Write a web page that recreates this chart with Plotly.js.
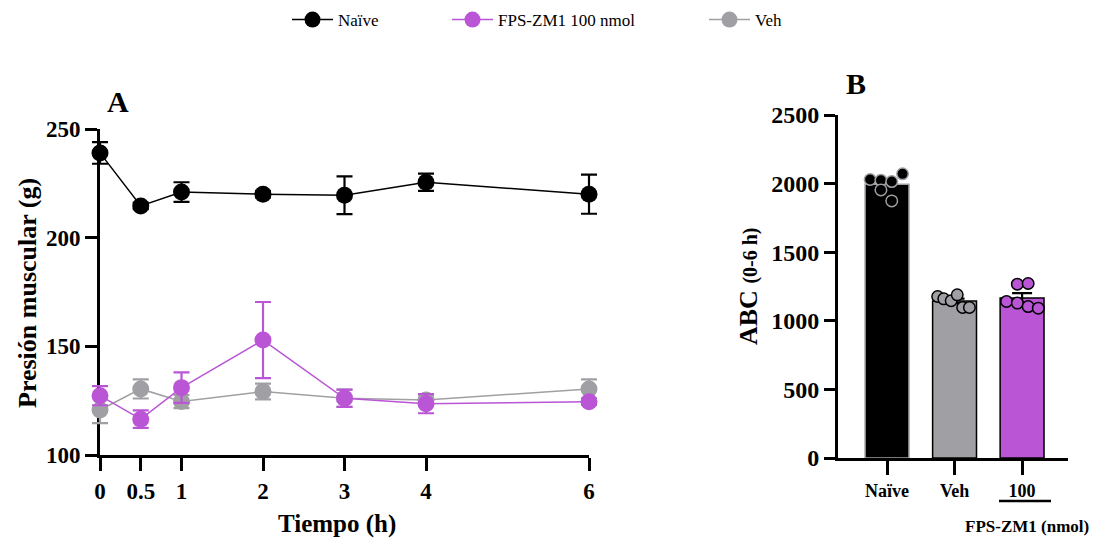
<!DOCTYPE html>
<html>
<head>
<meta charset="utf-8">
<script src="https://cdn.plot.ly/plotly-3.0.1.min.js"></script>
<style>html,body{margin:0;padding:0;background:#fff;}#chart{width:1100px;height:541px;}</style>
</head>
<body>
<div id="chart"></div>
<script>
// ---- Panel A data: Presión muscular (g) vs Tiempo (h) ----
const times = [0, 0.5, 1, 2, 3, 4, 6];
const timeTicks = ['0', '0.5', '1', '2', '3', '4', '6'];
const naive = [239, 214.6, 221, 220, 219.5, 225.5, 220];
const naiveErr = [5, 1.5, 4.5, 1.5, 8.7, 4, 9];
const fps = [127.3, 116.5, 131, 152.9, 126.1, 123.6, 124.5];
const fpsErr = [4.4, 4, 7, 17.5, 4, 4.4, 1.5];
const veh = [120.7, 130.4, 124.6, 129.2, 126.1, 125.3, 130.4];
const vehErr = [6, 4.4, 3, 3.6, 4, 2.5, 4.4];

// ---- Panel B data: ABC (0-6 h) ----
const groups = ['Naïve', 'Veh', '100'];
const abcMean = [1995, 1145, 1167];
const abcSem = [28, 16, 35];
const naiveAbc = [2030, 2025, 2015, 2071, 1954, 1874];
const vehAbc = [1177, 1160, 1146, 1189, 1097, 1097];
const fpsAbc = [1141, 1267, 1272, 1129, 1104, 1092];

// layout-only horizontal spread of individual dots (in category units)
const spreadNaive = [-0.25, -0.09, 0.07, 0.23, -0.09, 0.07];
const spreadVeh = [-0.25, -0.16, -0.05, 0.04, 0.12, 0.22];
const spreadFps = [-0.23, -0.07, 0.09, -0.07, 0.09, 0.24];

const BLACK = '#000000', PURPLE = '#BA55D6', GRAY = '#A0A0A4';
const SERIF = 'Liberation Serif, Times New Roman, serif';

const W = 1100, H = 541;
const px = v => v / W, py = v => 1 - v / H;

// Panel A geometry (pixels) — visible axes; traces go on an unclipped, wider twin subplot
const AX0 = 100, AX1 = 589, AY0 = 455, AY1 = 129, PAD = 30;
const xUnit = (AX1 - AX0) / 6, yUnit = (AY0 - AY1) / 150;

function lineTrace(name, y, err, color, legend) {
  return {
    type: 'scatter', mode: 'lines+markers', name: name, x: times, y: y,
    xaxis: 'x3', yaxis: 'y3', legend: legend, cliponaxis: false,
    line: {color: color, width: 1.5},
    marker: {color: color, size: 17},
    error_y: {type: 'data', array: err, visible: true, color: color, thickness: 2.2, width: 8}
  };
}

const traces = [
  {type: 'scatter', mode: 'markers', x: [], y: [], xaxis: 'x', yaxis: 'y', showlegend: false, hoverinfo: 'skip'},
  lineTrace('Veh', veh, vehErr, GRAY, 'legend3'),
  lineTrace('FPS-ZM1 100 nmol', fps, fpsErr, PURPLE, 'legend2'),
  lineTrace('Naïve', naive, naiveErr, BLACK, 'legend'),
  {
    type: 'bar', x: [0, 1, 2], y: abcMean, xaxis: 'x2', yaxis: 'y2', width: 0.65,
    showlegend: false,
    marker: {color: [BLACK, GRAY, PURPLE], line: {color: [GRAY, BLACK, BLACK], width: 1.5}},
    error_y: {type: 'data', array: abcSem, visible: true, color: BLACK, thickness: 2.2, width: 10}
  },
  {
    type: 'scatter', mode: 'markers', showlegend: false, xaxis: 'x2', yaxis: 'y2', cliponaxis: false,
    x: spreadNaive.map(d => 0 + d), y: naiveAbc,
    marker: {color: BLACK, size: 11.5, line: {color: GRAY, width: 1.5}}
  },
  {
    type: 'scatter', mode: 'markers', showlegend: false, xaxis: 'x2', yaxis: 'y2', cliponaxis: false,
    x: spreadVeh.map(d => 1 + d), y: vehAbc,
    marker: {color: GRAY, size: 11.5, line: {color: BLACK, width: 1.5}}
  },
  {
    type: 'scatter', mode: 'markers', showlegend: false, xaxis: 'x2', yaxis: 'y2', cliponaxis: false,
    x: spreadFps.map(d => 2 + d), y: fpsAbc,
    marker: {color: PURPLE, size: 11.5, line: {color: BLACK, width: 1.5}}
  }
];

const axisCommon = {
  showgrid: false, zeroline: false, showline: true, linecolor: BLACK, linewidth: 3,
  ticks: 'outside', tickcolor: BLACK, tickwidth: 3, layer: 'below traces',
  tickfont: {family: SERIF, size: 23, color: BLACK, weight: 700}
};
const hiddenAxis = {visible: false, showgrid: false, zeroline: false, fixedrange: true};
function legendAt(xm) {
  return {orientation: 'h', x: px(xm - 23), xanchor: 'left', y: py(20), yanchor: 'middle',
    itemwidth: 41, bgcolor: 'rgba(0,0,0,0)', font: {family: SERIF, size: 17, color: BLACK}};
}

const layout = {
  width: W, height: H, margin: {l: 0, r: 0, t: 0, b: 0},
  paper_bgcolor: '#fff', plot_bgcolor: 'rgba(0,0,0,0)', showlegend: true,
  font: {family: SERIF, color: BLACK},
  legend: legendAt(310), legend2: legendAt(470), legend3: legendAt(727),
  xaxis: Object.assign({}, axisCommon, {
    domain: [px(AX0), px(AX1)], range: [0, 6], anchor: 'y',
    tickmode: 'array', tickvals: times, ticktext: timeTicks, ticklen: 13
  }),
  yaxis: Object.assign({}, axisCommon, {
    domain: [py(AY0), py(AY1)], range: [100, 250], anchor: 'x',
    tickmode: 'array', tickvals: [100, 150, 200, 250], ticklen: 12
  }),
  xaxis3: Object.assign({}, hiddenAxis, {
    domain: [px(AX0 - PAD), px(AX1 + PAD)], range: [-PAD / xUnit, 6 + PAD / xUnit], anchor: 'y3'
  }),
  yaxis3: Object.assign({}, hiddenAxis, {
    domain: [py(AY0 + PAD), py(AY1 - PAD)], range: [100 - PAD / yUnit, 250 + PAD / yUnit], anchor: 'x3'
  }),
  xaxis2: Object.assign({}, axisCommon, {
    domain: [px(838), px(1068)], range: [-0.726, 2.68], anchor: 'y2',
    tickmode: 'array', tickvals: [0, 1, 2], ticktext: groups, ticklen: 14,
    tickfont: {family: SERIF, size: 18, color: BLACK, weight: 700}
  }),
  yaxis2: Object.assign({}, axisCommon, {
    domain: [py(458), py(115)], range: [0, 2500], anchor: 'x2',
    tickmode: 'array', tickvals: [0, 500, 1000, 1500, 2000, 2500], ticklen: 11,
    tickfont: {family: SERIF, size: 24, color: BLACK, weight: 700}
  }),
  annotations: [
    {text: 'A', x: px(118), y: py(102), xref: 'paper', yref: 'paper', showarrow: false,
      xanchor: 'center', yanchor: 'middle', font: {family: SERIF, size: 30, weight: 700, color: BLACK}},
    {text: 'B', x: px(856), y: py(84), xref: 'paper', yref: 'paper', showarrow: false,
      xanchor: 'center', yanchor: 'middle', font: {family: SERIF, size: 30, weight: 700, color: BLACK}},
    {text: 'Presión muscular (g)', x: px(27), y: py(293), xref: 'paper', yref: 'paper', showarrow: false,
      textangle: -90, xanchor: 'center', yanchor: 'middle', font: {family: SERIF, size: 26, weight: 700, color: BLACK}},
    {text: 'Tiempo (h)', x: px(337), y: py(524), xref: 'paper', yref: 'paper', showarrow: false,
      xanchor: 'center', yanchor: 'middle', font: {family: SERIF, size: 25, weight: 700, color: BLACK}},
    {text: 'ABC <span style="font-size:20px">(0-6 h)</span>', x: px(748), y: py(286), xref: 'paper', yref: 'paper', showarrow: false,
      textangle: -90, xanchor: 'center', yanchor: 'middle', font: {family: SERIF, size: 26, weight: 700, color: BLACK}},
    {text: 'FPS-ZM1 (nmol)', x: px(1027), y: py(526), xref: 'paper', yref: 'paper', showarrow: false,
      xanchor: 'center', yanchor: 'middle', font: {family: SERIF, size: 17, weight: 700, color: BLACK}}
  ],
  shapes: [
    {type: 'line', xref: 'paper', yref: 'paper', x0: px(999), x1: px(1051), y0: py(501), y1: py(501),
      line: {color: BLACK, width: 2.5}}
  ]
};

Plotly.newPlot('chart', traces, layout, {displayModeBar: false, staticPlot: true});
</script>
</body>
</html>
